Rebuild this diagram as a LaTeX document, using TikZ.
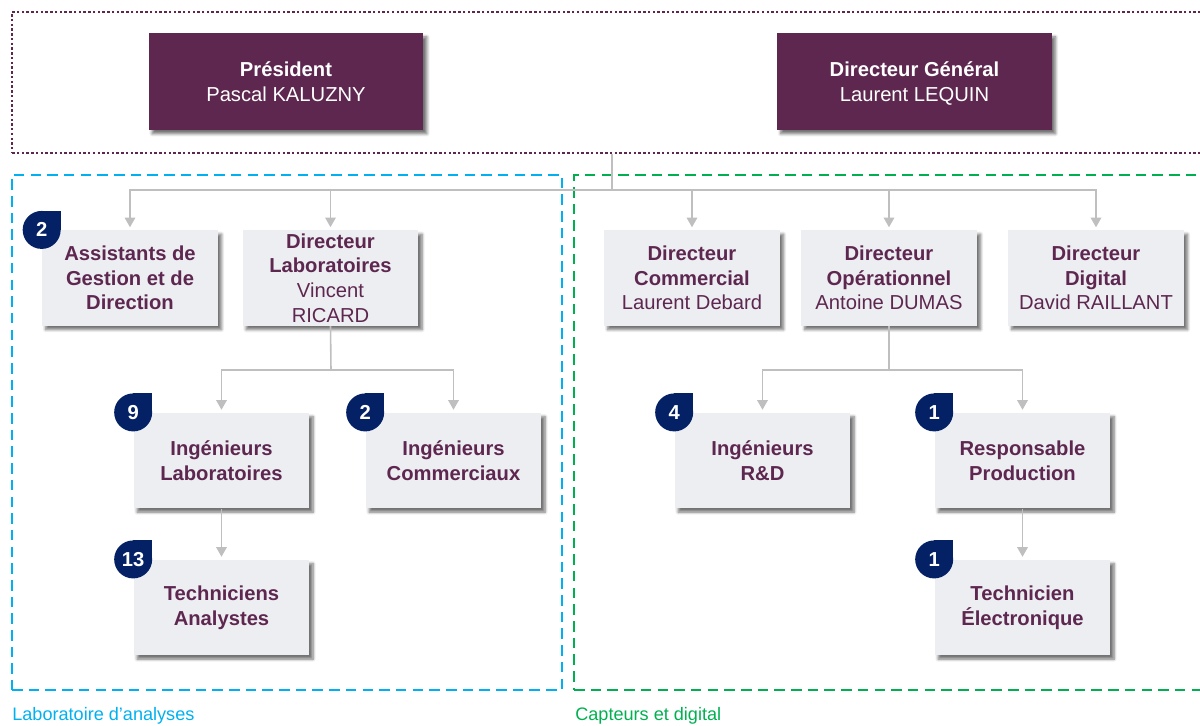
\documentclass[tikz,border=0pt]{standalone}
\usepackage{fontspec}
\setmainfont{Liberation Sans}
\usetikzlibrary{arrows.meta,shadows.blur}
\definecolor{prune}{RGB}{94,39,80}
\definecolor{grisclair}{RGB}{237,238,242}
\definecolor{marine}{RGB}{4,33,102}
\definecolor{bleulabo}{RGB}{0,176,240}
\definecolor{vertcapt}{RGB}{0,176,80}
\definecolor{grislien}{RGB}{191,191,191}
\begin{document}
\begin{tikzpicture}[x=0.02cm,y=-0.02cm]
        \tikzstyle{poste}=[rectangle, fill=grisclair, text=prune, align=center, inner sep=2pt, minimum width=3.52cm, minimum height=1.91cm, font=\fontsize{11.5}{14}\selectfont, blur shadow={shadow xshift=2pt, shadow yshift=-2.2pt, shadow blur radius=1.6pt, shadow blur steps=6, shadow opacity=55}]
        \tikzstyle{chef}=[poste, fill=prune, text=white, text depth=0pt, minimum width=5.5cm, minimum height=1.94cm]
        \tikzstyle{badge}=[circle, fill=marine, text=white, inner sep=0pt, minimum size=0.76cm, font=\bfseries\fontsize{11.5}{12}\selectfont]
        \tikzstyle{cadre}=[rectangle, inner sep=0pt, line width=1.4pt, dash pattern=on 6pt off 3.5pt]
        \tikzstyle{lien}=[grislien, line width=0.9pt]
        \tikzstyle{fleche}=[lien, -{Triangle[width=6pt,length=5.5pt]}, shorten >=1.5pt]

        \useasboundingbox (0,0) rectangle (1200,725);

        \node[cadre, draw=prune, line width=1.5pt, dash pattern=on 1.4pt off 1.3pt, minimum width=24cm, minimum height=2.82cm] (gouv) at (612,82.5) {};
        \node[cadre, draw=bleulabo, minimum width=11cm, minimum height=10.3cm] (labo) at (287,432.5) {};
        \node[cadre, draw=vertcapt, minimum width=12.76cm, minimum height=10.3cm] (capt) at (893,432.5) {};

        \node[chef] (pres) at (286,81.5)   {\textbf{Président}\\Pascal KALUZNY};
        \node[chef] (dg)   at (914.5,81.5) {\textbf{Directeur Général}\\Laurent LEQUIN};

        \node[poste] (assist)  at (130,278)    {\textbf{Assistants de}\\\textbf{Gestion et de}\\\textbf{Direction}};
        \node[poste] (dirlab)  at (330.5,278)  {\textbf{Directeur}\\\textbf{Laboratoires}\\Vincent\\RICARD};
        \node[poste] (dircom)  at (692,278)    {\textbf{Directeur}\\\textbf{Commercial}\\Laurent Debard};
        \node[poste] (dirop)   at (889,278)    {\textbf{Directeur}\\\textbf{Opérationnel}\\Antoine DUMAS};
        \node[poste] (dirdig)  at (1096,278)   {\textbf{Directeur}\\\textbf{Digital}\\David RAILLANT};

        \node[poste] (inglab)  at (221.5,460.5)  {\textbf{Ingénieurs}\\\textbf{Laboratoires}};
        \node[poste] (ingcom)  at (453.5,460.5)  {\textbf{Ingénieurs}\\\textbf{Commerciaux}};
        \node[poste] (ingrd)   at (762.5,460.5)  {\textbf{Ingénieurs}\\\textbf{R\&D}};
        \node[poste] (resprod) at (1022.5,460.5) {\textbf{Responsable}\\\textbf{Production}};

        \node[poste] (techan)  at (221.5,607.5)  {\textbf{Techniciens}\\\textbf{Analystes}};
        \node[poste] (techel)  at (1022.5,607.5) {\textbf{Technicien}\\\textbf{Électronique}};

        \coordinate (hubdg)  at (612,190);
        \coordinate (hublab) at (331,370);
        \coordinate (hubop)  at (889,370);

        \draw[lien] (gouv.south) -- (hubdg);
        \draw[lien] (dirlab.south) -- (hublab);
        \draw[lien] (dirop.south) -- (hubop);
        \foreach \cible in {assist, dirlab, dircom, dirop, dirdig}
            \draw[fleche] (hubdg) -| (\cible.north);
        \foreach \cible in {inglab, ingcom}
            \draw[fleche] (hublab) -| (\cible.north);
        \foreach \cible in {ingrd, resprod}
            \draw[fleche] (hubop) -| (\cible.north);
        \draw[fleche] (inglab) -- (techan);
        \draw[fleche] (resprod) -- (techel);

        \foreach \poste/\nb in {assist/2, inglab/9, ingcom/2, techan/13, ingrd/4, resprod/1, techel/1} {
            \fill[marine] (\poste.north west) rectangle ++(19,-19);
            \node[badge] (nb\poste) at (\poste.north west) {\nb};
        }

        \node[anchor=west, text=bleulabo, inner sep=0pt, font=\fontsize{10.3}{12}\selectfont] (nomlabo) at (12,716) {Laboratoire d’analyses};
        \node[anchor=west, text=vertcapt, inner sep=0pt, font=\fontsize{10.3}{12}\selectfont] (nomcapt) at (575,716) {Capteurs et digital};
    \end{tikzpicture}
\end{document}
